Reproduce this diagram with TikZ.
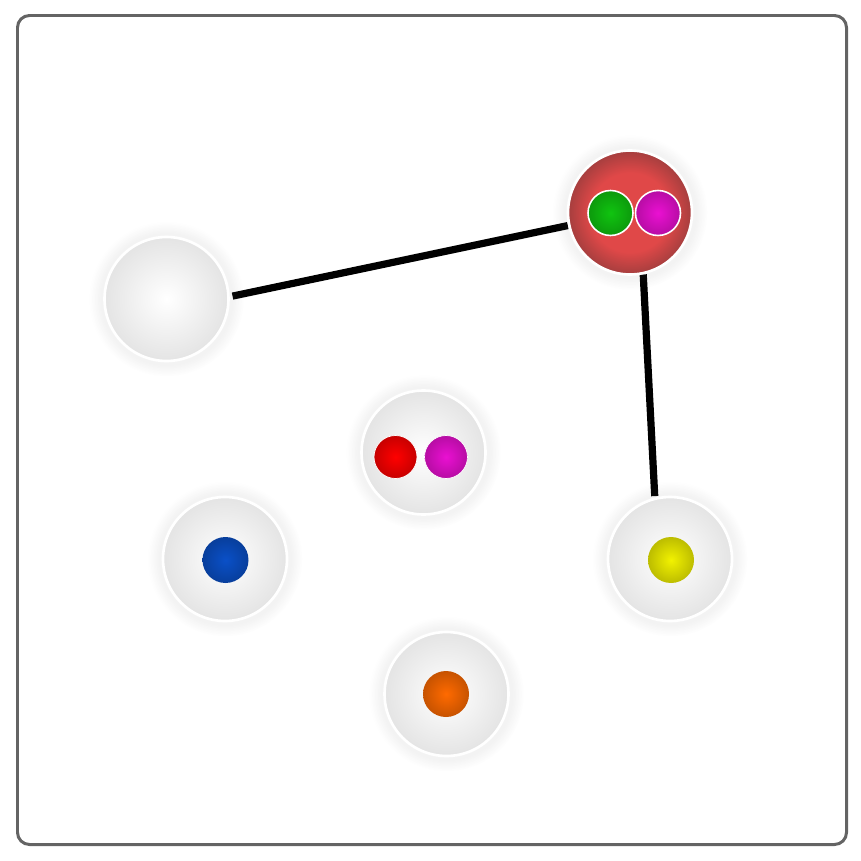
\documentclass[tikz,border=0pt]{standalone}
\usepackage{tikz}
\usetikzlibrary{calc,shadows,fadings,backgrounds}
\definecolor{framegray}{RGB}{100,100,100}
\definecolor{hubgray}{RGB}{228,228,228}
\definecolor{hubred}{RGB}{224,72,72}
\definecolor{hubreddark}{RGB}{165,62,62}
\definecolor{ballgreen}{RGB}{16,196,16}
\definecolor{ballmagenta}{RGB}{234,16,210}
\definecolor{ballred}{RGB}{255,0,0}
\definecolor{ballblue}{RGB}{10,80,200}
\definecolor{ballyellow}{RGB}{242,242,0}
\definecolor{ballorange}{RGB}{255,106,0}
\pgfdeclareradialshading{redhubshade}{\pgfpoint{0bp}{0bp}}{color(0bp)=(hubred); color(16bp)=(hubred); color(25bp)=(hubreddark); color(50bp)=(hubreddark)}

\tikzset{
  hub/.style={circle, draw=white, line width=1.5pt, minimum size=2.48cm, inner sep=0pt,
    inner color=white, outer color=hubgray, circular glow={fill=black!60, opacity=0.08}},
  ball/.style={circle, minimum size=0.92cm, inner sep=0pt, inner color=#1, outer color=#1!78!black},
  link/.style={line width=4.1pt, black}
}

\begin{document}
\begin{tikzpicture}[x=0.02cm, y=-0.02cm]
  \useasboundingbox (0,0) rectangle (861,861);
  \draw[framegray, line width=1.7pt, rounded corners=0.24cm] (17.5,15.5) rectangle (846.5,844.5);

  % hubs
  \node[hub] (blank) at (166.5,299) {};
  \node[hub, shading=redhubshade] (redhub) at (630,212.5) {};
  \node[hub] (mixhub) at (423.5,452.5) {};
  \node[hub] (bluehub) at (225,559) {};
  \node[hub] (yellowhub) at (670,559) {};
  \node[hub] (orangehub) at (446.5,694) {};

  % balls
  \node[ball=ballgreen, draw=white, line width=0.9pt, minimum size=0.9cm] (greenball) at (610.5,213) {};
  \node[ball=ballmagenta, draw=white, line width=0.9pt, minimum size=0.9cm] (magball) at (658,213) {};
  \node[ball=ballred, draw=white, line width=0.4pt, minimum size=0.86cm] (redball) at (395.5,457) {};
  \node[ball=ballmagenta, draw=white, line width=0.4pt, minimum size=0.86cm] (mixmagball) at (446,457) {};
  \node[ball=ballblue] (blueball) at (225.5,560) {};
  \node[ball=ballyellow] (yellowball) at (671,560) {};
  \node[ball=ballorange] (orangeball) at (446,694) {};

  % links
  \coordinate (blankend) at ($(blank.center)+(0,11)$);
  \coordinate (redend) at ($(redhub.center)+(10,0)$);
  \coordinate (yellowend) at ($(yellowhub.center)+(-12,0)$);
  \begin{scope}[on background layer]
    \draw[link, shorten <=1.27cm, shorten >=1.35cm] (redhub.center) -- (blankend);
    \draw[link, shorten <=1.24cm, shorten >=1.26cm] (redend) -- (yellowend);
  \end{scope}
\end{tikzpicture}
\end{document}
